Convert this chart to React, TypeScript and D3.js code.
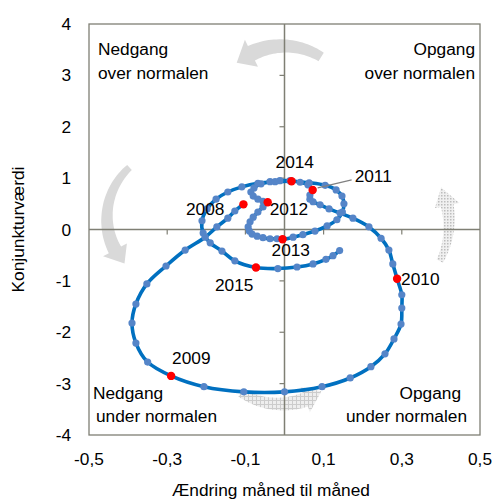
import React from "react";
import * as d3 from "d3";

const width = 493;
const height = 500;
const margin = { top: 24, right: 13, bottom: 65, left: 89 };

// monthly values, jan 2008 - jul 2015
const changeValues = [
  -0.105, -0.127, -0.145, -0.173, -0.203, -0.254, -0.303, -0.352, -0.38, -0.39, -0.38, -0.35,
  -0.29, -0.206, -0.104, 0.0, 0.096, 0.168, 0.221, 0.257, 0.28, 0.298, 0.3, 0.3,
  0.288, 0.277, 0.267, 0.247, 0.216, 0.175, 0.142, 0.114, 0.091, 0.073, 0.065, 0.065,
  0.072, 0.06, 0.04, 0.014, -0.012, -0.037, -0.06, -0.078, -0.086, -0.08, -0.068, -0.055,
  -0.043, -0.055, -0.068, -0.08, -0.088, -0.093, -0.09, -0.083, -0.07, -0.055, -0.037, -0.019,
  -0.005, 0.022, 0.047, 0.078, 0.109, 0.134, 0.148, 0.152, 0.147, 0.132, 0.104, 0.063,
  0.018, -0.024, -0.068, -0.109, -0.145, -0.175, -0.198, -0.211, -0.208, -0.19, -0.16, -0.127,
  -0.073, -0.017, 0.032, 0.073, 0.106, 0.124, 0.141,
];
const levelValues = [
  0.49, 0.36, 0.22, 0.05, -0.15, -0.4, -0.71, -1.06, -1.45, -1.82, -2.21, -2.58,
  -2.85, -3.06, -3.16, -3.16, -3.06, -2.89, -2.67, -2.42, -2.13, -1.84, -1.53, -1.27,
  -0.96, -0.67, -0.4, -0.17, 0.05, 0.22, 0.32, 0.4, 0.48, 0.54, 0.59, 0.67,
  0.77, 0.87, 0.92, 0.95, 0.95, 0.93, 0.89, 0.81, 0.73, 0.65, 0.59, 0.55,
  0.53, 0.44, 0.34, 0.24, 0.15, 0.05, -0.03, -0.09, -0.13, -0.16, -0.18, -0.18,
  -0.19, -0.15, -0.1, -0.03, 0.07, 0.19, 0.34, 0.5, 0.65, 0.77, 0.86, 0.91,
  0.94, 0.93, 0.9, 0.83, 0.73, 0.59, 0.4, 0.17, -0.07, -0.26, -0.42, -0.61,
  -0.74, -0.76, -0.73, -0.67, -0.58, -0.51, -0.41,
];
const years = ["2008", "2009", "2010", "2011", "2012", "2013", "2014", "2015"];
const xTicks = [-0.5, -0.3, -0.1, 0.1, 0.3, 0.5];
const yTicks = [4, 3, 2, 1, 0, -1, -2, -3, -4];

// label placement next to the january dots (px offsets + anchor)
const yearLabelPos: [number, number, string][] = [
  [-19, 11, "end"],
  [1, -12, "start"],
  [4, 6, "start"],
  [42, -8, "start"],
  [2, 13, "start"],
  [-11, 17, "start"],
  [-16, -13, "start"],
  [-41, 23, "start"],
];

const fmt = d3.formatLocale({
  decimal: ",",
  thousands: ".",
  grouping: [3],
  currency: ["", ""],
  minus: "-",
}).format(".1f");

const font = "'Liberation Sans', Arial, sans-serif";
const fs = 17.3;
const frameColor = "#7f7f74";

// block arrow bent along a circle, angles in degrees (screen coords)
function curvedArrow(
  cx: number, cy: number, r: number, a0: number, a1: number,
  w0: number, w1: number, headW: number, headDeg: number
) {
  const rad = Math.PI / 180;
  const dir = Math.sign(a1 - a0);
  const aH = a1 - dir * headDeg;
  const outer: number[][] = [];
  const inner: number[][] = [];
  const n = 30;
  for (let i = 0; i <= n; i++) {
    const t = i / n;
    const a = (a0 + (aH - a0) * t) * rad;
    const w = w0 + (w1 - w0) * t;
    outer.push([cx + (r + w / 2) * Math.cos(a), cy + (r + w / 2) * Math.sin(a)]);
    inner.push([cx + (r - w / 2) * Math.cos(a), cy + (r - w / 2) * Math.sin(a)]);
  }
  const ah = aH * rad;
  const at = a1 * rad;
  const pts = [
    ...outer,
    [cx + (r + headW / 2) * Math.cos(ah), cy + (r + headW / 2) * Math.sin(ah)],
    [cx + r * Math.cos(at), cy + r * Math.sin(at)],
    [cx + (r - headW / 2) * Math.cos(ah), cy + (r - headW / 2) * Math.sin(ah)],
    ...inner.reverse(),
  ];
  return "M" + pts.map((p) => p[0].toFixed(1) + "," + p[1].toFixed(1)).join("L") + "Z";
}

const App = () => {
  const x = d3.scaleLinear().domain([-0.5, 0.5]).range([margin.left, width - margin.right]);
  const y = d3.scaleLinear().domain([-4, 4]).range([height - margin.bottom, margin.top]);

  const data = changeValues.map((c, i) => ({ c, v: levelValues[i], i }));
  const path = d3
    .line<{ c: number; v: number }>()
    .x((d) => x(d.c))
    .y((d) => y(d.v))
    .curve(d3.curveCatmullRom.alpha(0.5))(data);

  const januaries = data.filter((d) => d.i % 12 === 0);
  const x0 = x(0);
  const y0 = y(0);

  const txt = { fontFamily: font, fontSize: fs, fill: "#000" };

  return (
    <svg width={width} height={height} style={{ position: "absolute", left: 0, top: 0 }}>
      <defs>
        <pattern id="grid" width="4" height="4" patternUnits="userSpaceOnUse">
          <rect width="4" height="4" fill="#eeeeee" />
          <path d="M0,0.5H4M0.5,0V4" stroke="#cccccc" strokeWidth="1" />
        </pattern>
        <pattern id="dots" width="3" height="3" patternUnits="userSpaceOnUse">
          <rect width="3" height="3" fill="#f0f0f0" />
          <rect width="1.5" height="1.5" fill="#bdbdbd" />
        </pattern>
      </defs>
      <rect width={width} height={height} fill="#fff" />

      {/* curved arrows */}
      <path d={curvedArrow(283, 118, 72, -58, -130, 10, 16, 30, 14)} fill="#d9d9d9" />
      <path d={curvedArrow(175, 218, 68, 228, 138, 7, 14, 27, 14)} fill="#d9d9d9" />
      <path d={curvedArrow(280, 330, 74, 122, 56, 9, 15, 27, 14)} fill="url(#grid)" />
      <path d={curvedArrow(365, 223, 84, 27, -25, 7, 13, 25, 13)} fill="url(#dots)" />

      {/* frame and axes */}
      <rect
        x={x(-0.5)}
        y={y(4)}
        width={x(0.5) - x(-0.5)}
        height={y(-4) - y(4)}
        fill="none"
        stroke={frameColor}
        strokeWidth={1.3}
      />
      <line x1={x(-0.5)} x2={x(0.5)} y1={y0} y2={y0} stroke={frameColor} strokeWidth={1.5} />
      <line x1={x0} x2={x0} y1={y(4)} y2={y(-4)} stroke={frameColor} strokeWidth={1.5} />
      {xTicks.slice(1, -1).map((t) => (
        <line key={t} x1={x(t)} x2={x(t)} y1={y0} y2={y0 + 5} stroke={frameColor} strokeWidth={1.2} />
      ))}
      {yTicks.slice(1, -1).map((t) => (
        <line key={t} x1={x0 - 5} x2={x0} y1={y(t)} y2={y(t)} stroke={frameColor} strokeWidth={1.2} />
      ))}

      {/* tick labels */}
      {yTicks.map((t) => (
        <text key={t} x={71} y={y(t)} dy="0.35em" textAnchor="end" {...txt}>
          {t}
        </text>
      ))}
      {xTicks.map((t) => (
        <text key={t} x={x(t)} y={465} textAnchor="middle" {...txt}>
          {fmt(t)}
        </text>
      ))}
      <text x={271} y={496} textAnchor="middle" {...txt}>
        Ændring måned til måned
      </text>
      <text transform={`translate(24,${y(0)}) rotate(-90)`} textAnchor="middle" {...txt}>
        Konjunkturværdi
      </text>

      {/* quadrant captions */}
      <text x={98} y={55} {...txt}>Nedgang</text>
      <text x={98} y={79} {...txt}>over normalen</text>
      <text x={475} y={55} textAnchor="end" {...txt}>Opgang</text>
      <text x={475} y={79} textAnchor="end" {...txt}>over normalen</text>
      <text x={93} y={399} {...txt}>Nedgang</text>
      <text x={96} y={422} {...txt}>under normalen</text>
      <text x={461} y={399} textAnchor="end" {...txt}>Opgang</text>
      <text x={467} y={422} textAnchor="end" {...txt}>under normalen</text>

      {/* series */}
      <path d={path || ""} fill="none" stroke="#0070c0" strokeWidth={3.6} strokeLinejoin="round" />
      {data.map((d) => (
        <circle key={d.i} cx={x(d.c)} cy={y(d.v)} r={3.6} fill="#5585c8" />
      ))}
      {januaries.map((d) => (
        <circle key={"r" + d.i} cx={x(d.c)} cy={y(d.v)} r={4.2} fill="#ff0000" />
      ))}

      {/* leader for 2011 */}
      <line
        x1={x(changeValues[36]) + 5}
        y1={y(levelValues[36]) - 2}
        x2={x(changeValues[36]) + 39}
        y2={y(levelValues[36]) - 10}
        stroke="#808080"
        strokeWidth={1.2}
      />
      {januaries.map((d, k) => (
        <text
          key={"l" + d.i}
          x={x(d.c) + yearLabelPos[k][0]}
          y={y(d.v) + yearLabelPos[k][1]}
          textAnchor={yearLabelPos[k][2] as any}
          {...txt}
        >
          {years[k]}
        </text>
      ))}
    </svg>
  );
};

export default App;
